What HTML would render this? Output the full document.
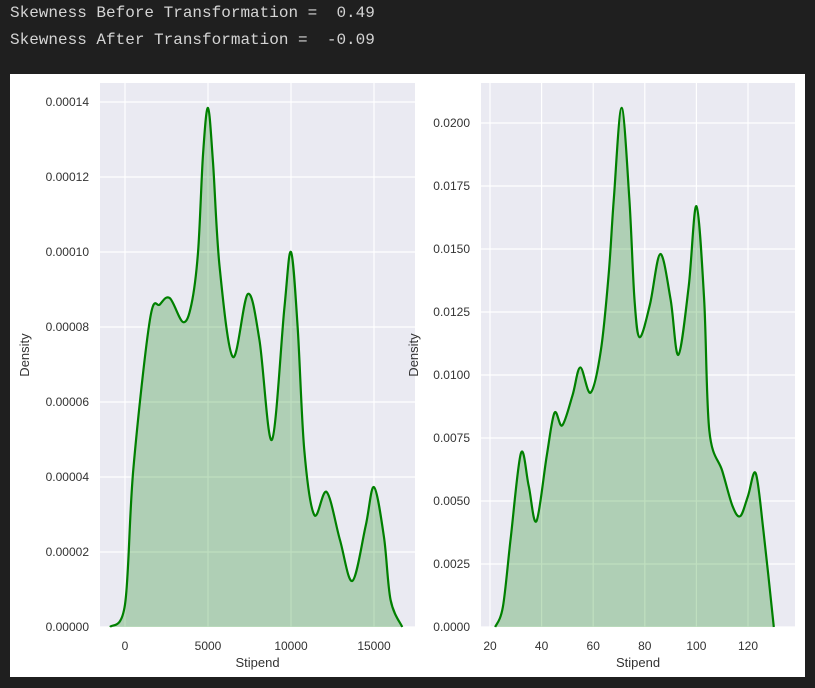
<!DOCTYPE html>
<html><head><meta charset="utf-8"><style>
body{margin:0;width:815px;height:688px;background:#1f1f1f;overflow:hidden;font-family:"Liberation Sans",sans-serif}
.out{position:absolute;left:10px;color:#d4d4d4;font-family:"Liberation Mono",monospace;font-size:16px;white-space:pre}
</style></head><body>
<div class="out" style="top:4px">Skewness Before Transformation =  0.49</div>
<div class="out" style="top:31px">Skewness After Transformation =  -0.09</div>
<svg id="fig" width="815" height="688" style="position:absolute;left:0;top:0">
<rect x="10" y="74" width="795" height="603" fill="#fff"/>
</svg>
<script>
// Left chart data (Stipend, density in 1e-5)
const leftX=[-900,0,500,1500,2100,2700,3500,4000,4400,4700,5000,5300,5700,6500,7400,8100,8850,9600,10000,10400,10800,11400,12150,12950,13700,14500,15000,15600,16000,16700];
const leftY=[0,0.6,4.2,8.19,8.6,8.77,8.13,8.6,10.0,12.6,13.84,12.4,9.6,7.2,8.88,7.65,4.99,8.5,10.0,8.0,4.72,2.99,3.6,2.32,1.23,2.7,3.73,2.4,0.72,0];
const leftTicksX=[0,5000,10000,15000];
const leftTicksY=[0,2,4,6,8,10,12,14];
// Right chart data
const rightX=[22,25,28,32,35,38,42,45,48,52,55,59,63,66,68,71,74,76,78,82,86,90,93,97,100,103,105,110,114,117,120,123,126,130];
const rightY=[0,0.0008,0.0035,0.0069,0.0056,0.0042,0.0068,0.0085,0.0080,0.0092,0.0103,0.0093,0.0110,0.0140,0.0170,0.0206,0.0170,0.0130,0.0115,0.0128,0.0148,0.0130,0.0108,0.0135,0.0167,0.0130,0.0078,0.0062,0.0048,0.0044,0.0052,0.0061,0.0038,0];
const rightTicksX=[20,40,60,80,100,120];
const rightTicksY=[0,0.0025,0.005,0.0075,0.01,0.0125,0.015,0.0175,0.02];
const svg=document.getElementById('fig');const NS='http://www.w3.org/2000/svg';
function mk(t,a){const e=document.createElementNS(NS,t);for(const k in a)e.setAttribute(k,a[k]);svg.appendChild(e);return e;}
function path(pts){let d='M'+pts[0][0]+','+pts[0][1];for(let i=0;i<pts.length-1;i++){const p0=pts[Math.max(0,i-1)],p1=pts[i],p2=pts[i+1],p3=pts[Math.min(pts.length-1,i+2)];
d+=' C'+(p1[0]+(p2[0]-p0[0])/6)+','+(p1[1]+(p2[1]-p0[1])/6)+' '+(p2[0]-(p3[0]-p1[0])/6)+','+(p2[1]-(p3[1]-p1[1])/6)+' '+p2[0]+','+p2[1];}return d;}
function chart(o){
 const r=mk('rect',{x:o.x0,y:83,width:o.w,height:544,fill:'#eaeaf2'});
 
 o.tx.forEach(v=>{const x=o.sx(v);const l=mk('line',{x1:x,x2:x,y1:83,y2:627,stroke:'#fff','stroke-width':1.2});
  
  const t=mk('text',{x:x,y:650,'text-anchor':'middle','font-size':12,fill:'#333'});t.textContent=v;
  });
 o.ty.forEach(v=>{const y=o.sy(v);const l=mk('line',{x1:o.x0,x2:o.x0+o.w,y1:y,y2:y,stroke:'#fff','stroke-width':1.2});
  
  const t=mk('text',{x:o.x0-11,y:y+4,'text-anchor':'end','font-size':12,fill:'#333'});t.textContent=o.fmt(v);
  });
 const pts=o.xs.map((v,i)=>[o.sx(v),o.sy(o.ys[i])]);const d=path(pts);
 const f=mk('path',{d:d+' L'+pts[pts.length-1][0]+',627 L'+pts[0][0]+',627 Z',fill:'rgba(0,128,0,0.25)'});
 
 const c=mk('path',{d:d,fill:'none',stroke:'#008000','stroke-width':2.2});
 
 const xl=mk('text',{x:o.x0+o.w/2,y:667,'text-anchor':'middle','font-size':13,fill:'#333'});xl.textContent='Stipend';
 
 const yl=mk('text',{x:o.ylx,y:355,'text-anchor':'middle','font-size':13,fill:'#333',transform:'rotate(-90 '+o.ylx+' 355)'});yl.textContent='Density';
 
}
chart({name:'left',x0:100,w:315,xs:leftX,ys:leftY,tx:leftTicksX,ty:leftTicksY,sx:v=>125+v*0.0166,sy:v=>627-v*37.5,fmt:v=>(v*1e-5).toFixed(5),ylx:29});
chart({name:'right',x0:481,w:314,xs:rightX,ys:rightY,tx:rightTicksX,ty:rightTicksY,sx:v=>490+(v-20)*2.58,sy:v=>627-v*25200,fmt:v=>v.toFixed(4),ylx:418});
</script>
</body></html>
